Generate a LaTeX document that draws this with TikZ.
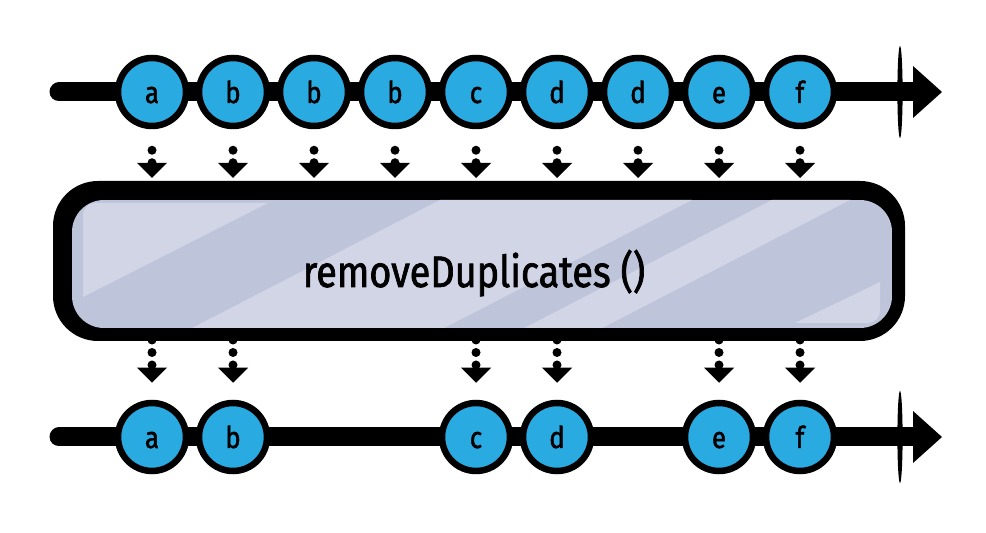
\documentclass[tikz,border=0pt]{standalone}
\usepackage{fontspec}
\usepackage{tikz}
\usetikzlibrary{arrows.meta}
\newfontfamily\handfont[FakeStretch=0.86, FakeBold=1.6]{Fira Sans}
\definecolor{MarbleBlue}{HTML}{29ABE2}
\definecolor{OpDark}{HTML}{BEC4DA}
\definecolor{OpLight}{HTML}{D1D5E5}

\begin{document}
\begin{tikzpicture}[x=1pt, y=1pt,
    marble/.style={circle, draw=black, line width=6.5pt, fill=MarbleBlue, minimum size=68pt, inner sep=0pt,
      font=\handfont\fontsize{30}{30}\selectfont, text height=22pt, text depth=0pt},
    timeline/.style={line width=19pt, line cap=round, -{Triangle[length=29pt, width=52pt, line width=0pt]}},
    flow/.style={line width=9pt, line cap=round, dash pattern=on 0pt off 12.5pt,
      -{Triangle[length=15pt, width=30pt, line width=0pt]}}]
  \useasboundingbox (0,0) rectangle (986,533);

  % source stream
  \draw[timeline] (59,441) -- (942,441);
  \fill (900,441) ellipse (2.6 and 46);
  \foreach \v [count=\i from 0] in {a,b,b,b,c,d,d,e,f}
    \node[marble] (in\i) at (152+81*\i,441) {\v};

  % operator box
  \fill[rounded corners=45pt] (53,192) rectangle (905,352);
  \begin{scope}
    \clip[rounded corners=32pt] (72,205) rectangle (892,333);
    \fill[OpDark] (72,205) rectangle (892,333);
    \fill[OpLight] (163,190) -- (453.5,340) -- (705.5,340) -- (415.2,190) -- cycle;
    \fill[OpLight] (495.2,190) -- (785.5,340) -- (863.5,340) -- (573.2,190) -- cycle;
    \fill[OpLight] (83,236) -- (83,318) arc (180:90:12) -- (268,330) -- cycle;
    \fill[OpLight] (795,210) -- (880,251) -- (880,222) arc (0:-90:12) -- cycle;
  \end{scope}
  \node[font=\handfont\fontsize{44}{44}\selectfont, anchor=base] (op) at (474,246) {removeDuplicates ()};
  \coordinate (optop) at (474,355);
  \coordinate (opbot) at (474,193);

  % result stream
  \draw[timeline] (59,96) -- (942,96);
  \fill (900,96) ellipse (2.6 and 46);
  \foreach \v/\k in {a/0,b/1,c/4,d/5,e/7,f/8}
    \node[marble] (out\k) at (152+81*\k,96) {\v};

  % emissions
  \foreach \i in {0,...,8}
    \draw[flow] ([yshift=-21pt]in\i.south) -- (in\i |- optop);
  \foreach \k in {0,1,4,5,7,8}
    \draw[flow] (out\k |- opbot) -- ([yshift=17pt]out\k.north);
\end{tikzpicture}
\end{document}
